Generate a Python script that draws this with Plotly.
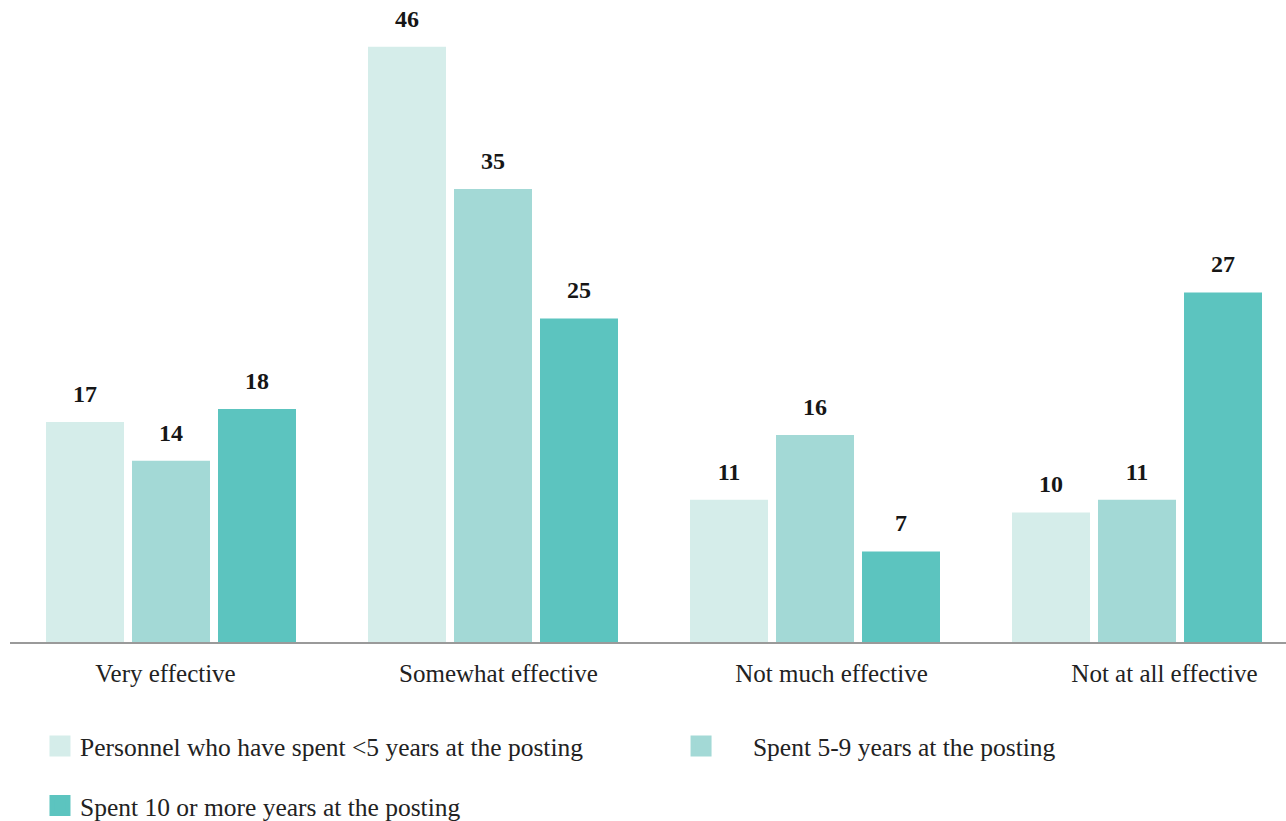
import plotly.graph_objects as go

categories = ["Very effective", "Somewhat effective", "Not much effective", "Not at all effective"]
series_names = [
    "Personnel who have spent <5 years at the posting",
    "\u00a0\u00a0\u00a0\u00a0\u00a0Spent 5-9 years at the posting",
    "Spent 10 or more years at the posting",
]
under5 = [17, 46, 11, 10]
five_to_nine = [14, 35, 16, 11]
ten_plus = [18, 25, 7, 27]
colors = ["#D5EDEA", "#A3D9D6", "#5CC4BF"]

FONT = "Liberation Serif"
values = [under5, five_to_nine, ten_plus]
groups = ["a", "b", "c"]
legends = ["legend", "legend2", "legend3"]

fig = go.Figure()
for vals, col, g in zip(values, colors, groups):
    fig.add_trace(go.Bar(
        x=categories, y=vals, marker=dict(color=col, line=dict(width=0)),
        offsetgroup=g, showlegend=False, hoverinfo="x+y",
    ))
for vals, g in zip(values, groups):
    fig.add_trace(go.Scatter(
        x=categories, y=vals, mode="markers+text", text=vals,
        texttemplate="<b>%{text}</b>", textposition="top center",
        marker=dict(size=21, color="rgba(0,0,0,0)"),
        textfont=dict(family=FONT, size=24, color="#161616"),
        offsetgroup=g, showlegend=False, hoverinfo="skip", cliponaxis=False,
    ))
for name, col, g, lg in zip(series_names, colors, groups, legends):
    fig.add_trace(go.Scatter(
        x=[None], y=[None], mode="markers", name=name, offsetgroup=g,
        xaxis="x2",
        marker=dict(symbol="square", size=16, color=col, line=dict(color=col, width=5)),
        legend=lg, showlegend=True,
    ))

leg_common = dict(font=dict(family=FONT, size=25.5, color="#222"), bgcolor="rgba(0,0,0,0)",
                  xanchor="left", yanchor="middle", orientation="h")
fig.update_layout(
    width=1286, height=821,
    margin=dict(l=10, r=0, t=0, b=179, autoexpand=False),
    paper_bgcolor="white", plot_bgcolor="white",
    barmode="group", bargap=0.1988, bargroupgap=0.093,
    scattermode="group", scattergap=0.1988,
    font=dict(family=FONT, size=24, color="#222"),
    xaxis=dict(range=[-0.5, 3.4627], showline=True, linecolor="#9a9a9a", linewidth=2,
               showgrid=False, ticks="", showticklabels=False, fixedrange=True),
    xaxis2=dict(overlaying="x", anchor="y", side="bottom", type="linear",
                range=[-0.467, 3.365], tickvals=list(range(len(categories))), ticktext=categories,
                showline=False, showgrid=False, zeroline=False, ticks="",
                tickfont=dict(family=FONT, size=25, color="#222"),
                ticklabelstandoff=14, fixedrange=True),
    yaxis=dict(range=[0, 49.61], visible=False, showgrid=False, zeroline=False, fixedrange=True),
    legend=dict(x=0.0235, y=-0.1628, **leg_common),
    legend2=dict(x=0.5259, y=-0.1628, **leg_common),
    legend3=dict(x=0.0235, y=-0.2555, **leg_common),
    showlegend=True,
)
fig.write_html("out.html")
